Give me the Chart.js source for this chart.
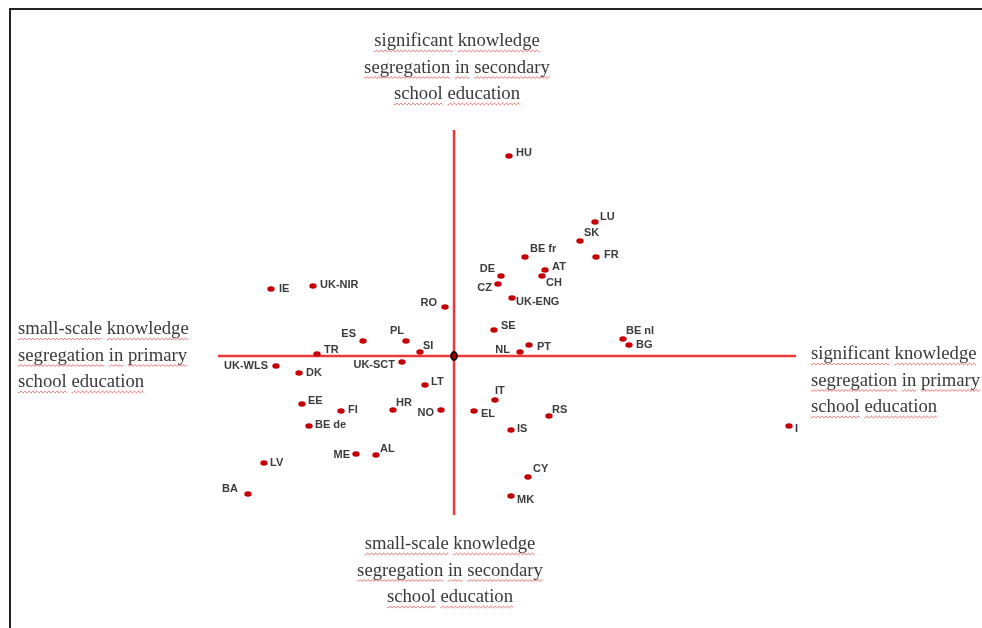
<!DOCTYPE html>
<html>
<head>
<meta charset="utf-8">
<script src="https://cdn.jsdelivr.net/npm/chart.js@4"></script>
<style>
  html, body { margin: 0; padding: 0; background: #fff; }
  #wrap { position: relative; width: 982px; height: 628px; }
</style>
</head>
<body>
<div id="wrap"><canvas id="myChart" width="982" height="628"></canvas></div>
<script>
// country codes and their position (x = primary, y = secondary segregation)
const countries = ["HU", "LU", "SK", "FR", "BE fr", "AT", "CH", "DE", "CZ", "UK-ENG",
  "IE", "UK-NIR", "RO", "ES", "PL", "SI", "TR", "SE", "PT", "NL", "BE nl", "BG",
  "UK-WLS", "DK", "UK-SCT", "LT", "EE", "FI", "HR", "NO", "EL", "BE de", "ME", "AL",
  "LV", "BA", "IT", "RS", "IS", "I", "CY", "MK"];
const primary = [5.5, 14.1, 12.6, 14.2, 7.1, 9.1, 8.8, 4.7, 4.4, 5.8,
  -18.3, -14.1, -0.9, -9.1, -4.8, -3.4, -13.7, 4.0, 7.5, 6.6, 16.9, 17.5,
  -17.8, -15.5, -5.2, -2.9, -15.2, -11.3, -6.1, -1.3, 2.0, -14.5, -9.8, -7.8,
  -19.0, -20.6, 4.1, 9.5, 5.7, 33.5, 7.4, 5.7];
const secondary = [20.0, 13.4, 11.5, 9.9, 9.9, 8.6, 8.0, 8.0, 7.2, 5.8,
  6.7, 7.0, 4.9, 1.5, 1.5, 0.4, 0.2, 2.6, 1.1, 0.4, 1.7, 1.1,
  -1.0, -1.7, -0.6, -2.9, -4.8, -5.5, -5.4, -5.4, -5.5, -7.0, -9.8, -9.9,
  -10.7, -13.8, -4.4, -6.0, -7.4, -7.0, -12.1, -14.0];

const quadrantText = {
  top: ["significant knowledge", "segregation in secondary", "school education"],
  bottom: ["small-scale knowledge", "segregation in secondary", "school education"],
  left: ["small-scale knowledge", "segregation in primary", "school education"],
  right: ["significant knowledge", "segregation in primary", "school education"]
};

// label placement (pixel offset from the dot), negative dx = text to the left
const labelOffset = {
  "HU": [7, -3], "LU": [5, -5], "SK": [4, -8], "FR": [8, -2], "BE fr": [5, -8],
  "AT": [7, -3], "CH": [4, 7], "DE": [-6, -7], "CZ": [-6, 4], "UK-ENG": [4, 4],
  "IE": [8, 0], "UK-NIR": [7, -1], "RO": [-8, -4], "ES": [-7, -7], "PL": [-2, -10],
  "SI": [3, -6], "TR": [7, -4], "SE": [7, -4], "PT": [8, 2], "NL": [-10, -2],
  "BE nl": [3, -8], "BG": [7, 0], "UK-WLS": [-8, 0], "DK": [7, 0], "UK-SCT": [-7, 3],
  "LT": [6, -3], "EE": [6, -3], "FI": [7, -1], "HR": [3, -7], "NO": [-7, 3],
  "EL": [7, 3], "BE de": [6, -1], "ME": [-6, 1], "AL": [4, -6], "LV": [6, 0],
  "BA": [-10, -5], "IT": [0, -9], "RS": [3, -6], "IS": [6, -1], "I": [6, 3],
  "CY": [5, -8], "MK": [6, 4]
};

// slightly flattened dot like the original markers
const dot = document.createElement("canvas");
dot.width = 8; dot.height = 6;
const dctx = dot.getContext("2d");
dctx.fillStyle = "#c40008";
dctx.beginPath();
dctx.ellipse(4, 3, 3.7, 2.7, 0, 0, Math.PI * 2);
dctx.fill();

function wavy(ctx, x1, x2, y) {
  ctx.beginPath();
  for (let x = x1; x <= x2; x += 0.5) {
    const yy = y + Math.sin((x - x1) / 2 * Math.PI) * 0.9;
    if (x === x1) ctx.moveTo(x, yy); else ctx.lineTo(x, yy);
  }
  ctx.stroke();
}

function drawBlock(ctx, lines, x, ys, align) {
  ctx.font = "18.7px 'Liberation Serif', serif";
  ctx.textBaseline = "alphabetic";
  lines.forEach((line, i) => {
    const w = ctx.measureText(line).width;
    let left = x;
    if (align === "center") left = x - w / 2;
    ctx.fillStyle = "#3a3a3a";
    ctx.textAlign = "left";
    ctx.fillText(line, left, ys[i]);
    // spell-check style underline under each word
    ctx.strokeStyle = "rgba(225,70,70,0.8)";
    ctx.lineWidth = 0.9;
    let cur = left;
    line.split(" ").forEach(word => {
      const ww = ctx.measureText(word).width;
      wavy(ctx, cur, cur + ww, ys[i] + 5);
      cur += ww + ctx.measureText(" ").width;
    });
  });
}

const quadrantPlugin = {
  id: "quadrant",
  beforeDatasetsDraw(chart) {
    const ctx = chart.ctx;
    const a = chart.chartArea;
    const x0 = chart.scales.x.getPixelForValue(0);
    const y0 = chart.scales.y.getPixelForValue(0);
    ctx.save();
    ctx.strokeStyle = "#f03838";
    ctx.lineWidth = 2.5;
    ctx.beginPath();
    ctx.moveTo(a.left, y0); ctx.lineTo(a.right, y0);
    ctx.moveTo(x0, a.top); ctx.lineTo(x0, a.bottom);
    ctx.stroke();
    ctx.restore();
  },
  afterDatasetsDraw(chart) {
    const ctx = chart.ctx;
    const x0 = chart.scales.x.getPixelForValue(0);
    const y0 = chart.scales.y.getPixelForValue(0);
    ctx.save();
    // origin marker
    ctx.fillStyle = "#a00000";
    ctx.strokeStyle = "#111";
    ctx.lineWidth = 1.8;
    ctx.beginPath();
    ctx.ellipse(x0, y0, 3, 4, 0, 0, Math.PI * 2);
    ctx.fill(); ctx.stroke();
    // country labels
    ctx.font = "bold 11px 'Liberation Sans', Arial, sans-serif";
    ctx.fillStyle = "#3b3b3b";
    ctx.textBaseline = "middle";
    const meta = chart.getDatasetMeta(0);
    meta.data.forEach((pt, i) => {
      const off = labelOffset[countries[i]] || [6, 0];
      ctx.textAlign = off[0] < 0 ? "right" : "left";
      ctx.fillText(countries[i], pt.x + off[0], pt.y + off[1]);
    });
    ctx.restore();
  },
  afterDraw(chart) {
    const ctx = chart.ctx;
    ctx.save();
    drawBlock(ctx, quadrantText.top, 457, [46, 72.5, 99], "center");
    drawBlock(ctx, quadrantText.bottom, 450, [549, 575.5, 602], "center");
    drawBlock(ctx, quadrantText.left, 18, [334, 360.5, 387], "left");
    drawBlock(ctx, quadrantText.right, 811, [359, 385.5, 412], "left");
    // frame of the original figure
    ctx.strokeStyle = "#222";
    ctx.lineWidth = 2;
    ctx.beginPath();
    ctx.moveTo(10, 628); ctx.lineTo(10, 9); ctx.lineTo(982, 9);
    ctx.stroke();
    ctx.restore();
  }
};

const points = countries.map((c, i) => ({ x: primary[i], y: secondary[i] }));

new Chart(document.getElementById("myChart").getContext("2d"), {
  type: "scatter",
  data: {
    datasets: [{
      label: "countries",
      data: points,
      pointStyle: dot,
      pointRadius: 4,
      clip: false
    }]
  },
  options: {
    responsive: false,
    animation: false,
    layout: { padding: { left: 218, right: 186, top: 130, bottom: 113 } },
    scales: {
      x: { type: "linear", min: -23.6, max: 34.2, display: false },
      y: { type: "linear", min: -15.9, max: 22.6, display: false }
    },
    plugins: {
      legend: { display: false },
      tooltip: { enabled: false }
    }
  },
  plugins: [quadrantPlugin]
});
</script>
</body>
</html>
